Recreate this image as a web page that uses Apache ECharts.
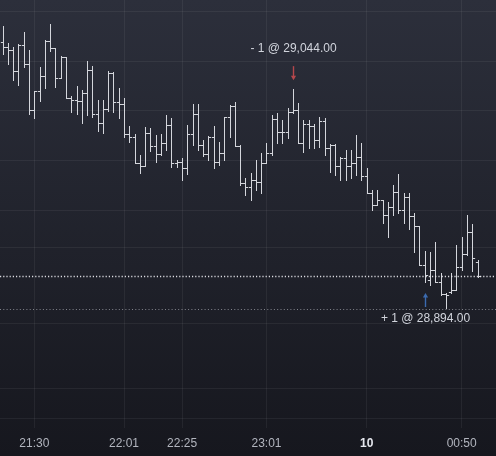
<!DOCTYPE html>
<html><head><meta charset="utf-8">
<script src="https://cdn.jsdelivr.net/npm/echarts@6/dist/echarts.min.js"></script>
<style>html,body{margin:0;padding:0;background:#1f2129;}#c{width:496px;height:456px;}</style>
</head><body><div id="c"></div>
<script>
// ---- data ----
const opens = [29093.25,29089,29086.25,29068,29090.5,29074,29033.75,29050.5,29063.5,29094,
29088,29061.75,29080,29044.25,29042.5,29041.5,29048.5,29068.75,29030.25,29022.5,
29034.5,29066,29040.75,29039,29012.75,29010,28987.5,28984.75,29013.5,29002.25,
28995.25,29005,29020.5,28987.5,28988.25,28983,29012.75,29030.25,29003,28995.25,
29010,28988.25,28996,29027.5,29037.25,29002.25,28970,28966.5,28972.5,28970.75,
28987.5,28996,29026,29014.5,29014.5,29032,29033.75,29005,29021.5,29019.75,
29007.5,29024,29000.5,29003,28984.75,28991.75,28984.75,28987.5,28992.5,28976,
28961,28950.5,28955,28942,28949,28962,28946.25,28957.5,28941,28932.25,
28898,28885,28893.75,28883.25,28872.75,28874.5,28876.25,28896.5,28907.75,28927,
28900.75];
const highs = [29107.25,29092.5,29089,29091.5,29102,29086.25,29050.5,29071.5,29095,29109,
29088,29081,29080,29046,29054.75,29051.25,29076.5,29072.25,29042.5,29042.5,
29068,29067,29053,29044.25,29019.75,29012.75,28994.5,29019,29018,29012,
29012.75,29029.5,29026.75,28990,28991.75,29020.5,29039,29039,29007.5,29011,
29019.75,29005.75,29027.5,29038,29040.75,29003,28974.25,28978.5,28990,28996,
29005,29029.5,29031,29025,29035.5,29052,29040,29025,29025,29021.5,
29027.5,29026.75,29004,29004,28992.5,28998.75,28998.75,29012,29005,28983,
28963.75,28963.75,28955,28953.25,28968,28977.75,28961,28961,28943.5,28932.25,
28910.5,28909.5,28918.25,28891,28873.5,28891,28915.5,28922.5,28942,28934,
28902.5];
const lows = [29082.75,29074,29060,29055.5,29071.5,29030.25,29026.75,29041.5,29053,29085.5,
29054,29061.75,29044.25,29032,29030.25,29022.5,29029.5,29027.5,29015.5,29013.5,
29033,29032,29026.75,29010,29005.75,28987.5,28978.5,28984.75,28998,28988.25,
28994.5,28998.75,28984,28984,28972.5,28977.75,29003,28998.75,28993.5,28990,
28983,28985.5,28990,29010,29002.25,28968,28959.5,28955,28963.75,28961,
28987.5,28994.5,29005,29005,29009.25,29031,29005,28997,29000.5,29000.5,
29001.5,28994.5,28979.5,28977,28972.5,28972.5,28974.25,28977,28972.5,28961,
28946.25,28950.5,28935,28922.5,28942,28943.5,28935,28929.5,28909.5,28898,
28883.25,28880.5,28883.25,28872,28860.5,28873.5,28876.25,28893.75,28907,28893,
28887.5];
const closes = [29089,29086.25,29068,29090.5,29074,29033.75,29050.5,29063.5,29094,29088,
29061.75,29080,29044.25,29042.5,29041.5,29048.5,29068.75,29030.25,29022.5,29034.5,
29066,29040.75,29039,29012.75,29010,28987.5,28984.75,29013.5,29002.25,28995.25,
29005,29020.5,28987.5,28988.25,28983,29012.75,29030.25,29003,28995.25,29010,
28988.25,28996,29027.5,29037.25,29002.25,28970,28966.5,28972.5,28970.75,28987.5,
28996,29026,29014.5,29014.5,29032,29033.75,29005,29021.5,29019.75,29007.5,
29024,29000.5,29003,28984.75,28991.75,28984.75,28987.5,28992.5,28976,28961,
28950.5,28955,28942,28949,28962,28946.25,28957.5,28941,28932.25,28898,
28889.5,28893.75,28883.25,28872.75,28872,28876.25,28896.5,28907.75,28927,28904.25,
28888.5];
const slotCount = 94;                       // bar slots on the time axis (last ones empty)
const labelIndex = [6, 23, 34, 50, 69, 87];  // bars that carry a time label
const labelText = ['21:30', '22:01', '22:25', '23:01', '10', '00:50'];
const dateLabels = ['10'];
const tradeIndex = [55, 80];
const tradeQty = [-1, 1];
const tradePrice = [29044, 28894];
const refLevel = 28859.5;
const gridLevels = [29120.4, 29076.6, 29033.3, 28989.6, 28946.25, 28913.9, 28847.4, 28790.5, 28764.25];
const priceMin = 28755.5, priceMax = 29130;

// ---- chart ----
const FONT = '"Liberation Sans", Arial, sans-serif';
const slots = Array.from({length: slotCount}, (_, i) => 'b' + i);
const ohlc = opens.map((o, i) => [i, o, closes[i], lows[i], highs[i]]);
const trades = tradeIndex.map((b, k) => [b, tradePrice[k], tradeQty[k]]);
const lastClose = closes[closes.length - 1];
const crisp = v => Math.round(v) + 0.5;

function renderBar(params, api) {
  const i = api.value(0);
  const x = crisp(api.coord([i, api.value(1)])[0]);
  const yo = crisp(api.coord([i, api.value(1)])[1]);
  const yc = crisp(api.coord([i, api.value(2)])[1]);
  const yl = api.coord([i, api.value(3)])[1];
  const yh = api.coord([i, api.value(4)])[1];
  const half = api.size([1, 0])[0] * 0.5;
  const st = {stroke: '#d4d6dc', lineWidth: 1};
  return {type: 'group', children: [
    {type: 'line', shape: {x1: x, y1: Math.round(yh), x2: x, y2: Math.round(yl) + 1}, style: st},
    {type: 'line', shape: {x1: x - half, y1: yo, x2: x, y2: yo}, style: st},
    {type: 'line', shape: {x1: x, y1: yc, x2: x + half, y2: yc}, style: st}
  ]};
}

function renderTrade(params, api) {
  const b = api.value(0), price = api.value(1), qty = api.value(2);
  const sell = qty < 0;
  const x = crisp(api.coord([b, price])[0]);
  const anchor = sell ? api.coord([b, highs[b]])[1] : api.coord([b, lows[b]])[1];
  const color = sell ? '#b5474c' : '#3b6bb0';
  const tip = sell ? anchor - 9 : anchor + 11;
  const tail = sell ? anchor - 23 : anchor + 25;
  const dir = sell ? -1 : 1;
  const txt = (sell ? '- ' : '+ ') + Math.abs(qty) + ' @ ' +
    price.toLocaleString('en-US', {minimumFractionDigits: 2, maximumFractionDigits: 2});
  return {type: 'group', children: [
    {type: 'line', shape: {x1: x, y1: tail, x2: x, y2: tip + dir * 3}, style: {stroke: color, lineWidth: 1.4}},
    {type: 'polygon', shape: {points: [[x - 2.6, tip + dir * 4.5], [x + 2.6, tip + dir * 4.5], [x, tip]]}, style: {fill: color}},
    {type: 'text', x: x, y: sell ? anchor - 40 : anchor + 37,
      style: {text: txt, fill: '#d1d4dc', font: '12px ' + FONT, align: 'center', verticalAlign: 'middle',
        textAlign: 'center', textVerticalAlign: 'middle'}}
  ]};
}

const chart = echarts.init(document.getElementById('c'), null, {renderer: 'canvas'});
chart.setOption({
  animation: false,
  backgroundColor: new echarts.graphic.LinearGradient(0, 0, 0, 1, [
    {offset: 0, color: '#2c2f3b'}, {offset: 1, color: '#16171e'}
  ]),
  grid: {left: 0, right: 0, top: 0, bottom: 28, containLabel: false, outerBoundsMode: 'none'},
  xAxis: {
    type: 'category', data: slots, boundaryGap: true,
    axisLine: {show: false}, axisTick: {show: false}, splitLine: {show: false},
    axisLabel: {
      interval: idx => labelIndex.indexOf(idx) >= 0,
      margin: 10,
      formatter: (v, idx) => {
        const k = labelIndex.indexOf(idx);
        if (k < 0) return '';
        return dateLabels.indexOf(labelText[k]) >= 0 ? '{d|' + labelText[k] + '}' : '{t|' + labelText[k] + '}';
      },
      rich: {
        t: {color: '#b2b5be', fontSize: 12, fontFamily: FONT},
        d: {color: '#e6e8ee', fontSize: 12, fontWeight: 'bold', fontFamily: FONT}
      }
    }
  },
  yAxis: {type: 'value', min: priceMin, max: priceMax, show: false, splitLine: {show: false}},
  series: [
    {
      type: 'line', data: [], silent: true, z: 1,
      markLine: {
        silent: true, symbol: 'none', label: {show: false}, z: 1, animation: false,
        lineStyle: {color: 'rgba(255,255,255,0.06)', width: 1, type: 'solid'},
        data: gridLevels.map(v => ({yAxis: v})).concat(labelIndex.map(i => ({xAxis: i})))
      }
    },
    {
      type: 'custom', renderItem: renderBar, data: ohlc, z: 3,
      encode: {x: 0, y: [1, 2, 3, 4]}, silent: true
    },
    {
      type: 'line', data: [], silent: true, z: 4,
      markLine: {
        silent: true, symbol: 'none', label: {show: false}, z: 4, animation: false,
        data: [
          {yAxis: lastClose, lineStyle: {color: 'rgba(240,240,244,0.9)', width: 1.4, type: [1.2, 2]}},
          {yAxis: refLevel, lineStyle: {color: 'rgba(200,202,210,0.6)', width: 1, type: [1, 2.3]}}
        ]
      }
    },
    {
      type: 'custom', renderItem: renderTrade, data: trades, z: 5,
      encode: {x: 0, y: 1}, silent: true
    }
  ]
});
</script>
</body></html>
